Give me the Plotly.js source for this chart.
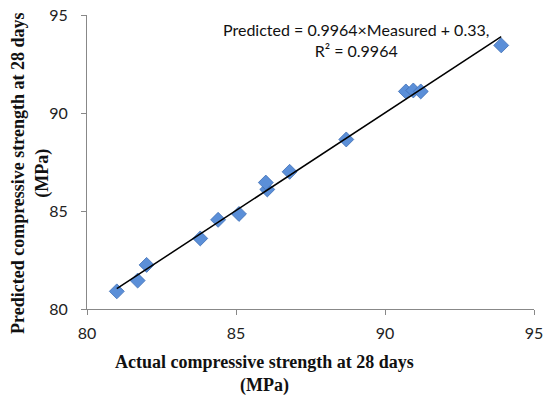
<!DOCTYPE html>
<html>
<head>
<meta charset="utf-8">
<script src="https://cdn.plot.ly/plotly-3.0.1.min.js"></script>
<style>html,body{margin:0;padding:0;background:#fff;}#chart{width:550px;height:400px;}</style>
</head>
<body>
<div id="chart"></div>
<script>
var measured  = [81.0, 81.7, 82.0, 83.8, 84.4, 85.1, 86.05, 86.0, 86.8, 88.7, 90.7, 90.95, 91.2, 93.9];
var predicted = [80.9, 81.45, 82.25, 83.6, 84.55, 84.85, 86.1, 86.45, 87.0, 88.65, 91.1, 91.15, 91.1, 93.45];
var slope = 0.9964;
var intercept = 0.33;
var xTicks = [80, 85, 90, 95];
var yTicks = [80, 85, 90, 95];

var xMin = Math.min.apply(null, measured);
var xMax = Math.max.apply(null, measured);
var fitX = [xMin, xMax];
var fitY = fitX.map(function (v) { return slope * v + intercept; });

var tickFont = {family: 'Lato, "Open Sans", sans-serif', size: 16, color: '#222'};
var titleFont = {family: '"Liberation Serif", "Times New Roman", serif', size: 18, color: '#111'};

var data = [
  {
    x: measured, y: predicted, type: 'scatter', mode: 'markers',
    marker: {symbol: 'diamond', size: 11.5, color: '#5b8fd8', line: {color: '#3f6fb5', width: 0.8}},
    hoverinfo: 'x+y'
  },
  {
    x: fitX, y: fitY, type: 'scatter', mode: 'lines',
    line: {color: '#000', width: 1.5}, hoverinfo: 'skip'
  }
];

var layout = {
  width: 550, height: 400,
  margin: {l: 87, r: 16, t: 15, b: 91},
  paper_bgcolor: '#fff', plot_bgcolor: '#fff',
  showlegend: false,
  xaxis: {
    range: [80, 95], tickvals: xTicks, ticktext: xTicks.map(String),
    showgrid: false, zeroline: false, showline: true, linecolor: '#888', linewidth: 1,
    ticks: 'outside', ticklen: 5, tickcolor: '#888', tickfont: tickFont, ticklabelstandoff: 5
  },
  yaxis: {
    range: [80, 95], tickvals: yTicks, ticktext: yTicks.map(String),
    showgrid: false, zeroline: false, showline: true, linecolor: '#888', linewidth: 1,
    ticks: 'outside', ticklen: 5, tickcolor: '#888', tickfont: tickFont, ticklabelstandoff: 10
  },
  annotations: [
    {
      xref: 'paper', yref: 'paper', x: 0.602, y: 0.915, xanchor: 'center', yanchor: 'middle',
      text: 'Predicted = 0.9964×Measured + 0.33,<br>R² = 0.9964', showarrow: false, align: 'center',
      font: {family: 'Lato, "Open Sans", sans-serif', size: 16, color: '#111'}
    },
    {
      xref: 'paper', yref: 'paper', x: 0.398, y: -0.22, xanchor: 'center', yanchor: 'middle',
      text: '<b>Actual compressive strength at 28 days<br>(MPa)</b>', showarrow: false, align: 'center',
      font: titleFont
    },
    {
      xref: 'paper', yref: 'paper', x: -0.127, y: 0.46, xanchor: 'center', yanchor: 'middle',
      text: '<b>Predicted compressive strength at 28 days<br>(MPa)</b>', showarrow: false, align: 'center',
      textangle: -90, font: titleFont
    }
  ]
};

Plotly.newPlot('chart', data, layout, {staticPlot: true, displayModeBar: false});
</script>
</body>
</html>
